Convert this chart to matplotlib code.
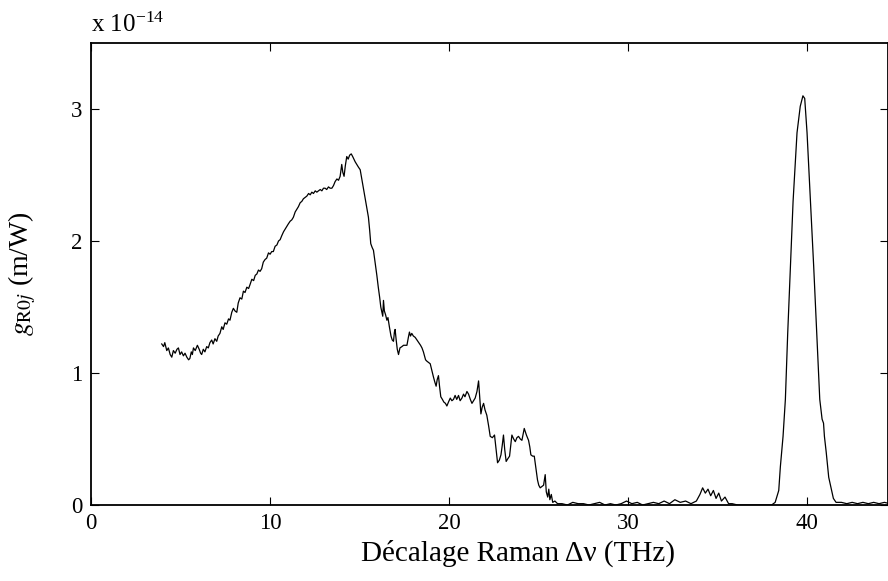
import matplotlib
matplotlib.use('Agg')
import matplotlib.pyplot as plt

# Raman gain spectrum (units of 1e-14 m/W)
shift_thz = [
    3.95, 4.05, 4.12, 4.23, 4.32, 4.42, 4.51, 4.60, 4.70, 4.80, 4.88, 4.97, 5.06, 5.16, 5.25, 5.35,
    5.45, 5.52, 5.60, 5.66, 5.72, 5.82, 5.94, 6.04, 6.12, 6.18, 6.27, 6.36, 6.46, 6.55, 6.64, 6.74,
    6.82, 6.92, 7.02, 7.10, 7.20, 7.30, 7.38, 7.48, 7.58, 7.68, 7.76, 7.86, 7.95, 8.04, 8.14, 8.22,
    8.32, 8.42, 8.51, 8.60, 8.70, 8.80, 8.88, 8.98, 9.08, 9.17, 9.26, 9.35, 9.44, 9.53, 9.62, 9.72,
    9.81, 9.91, 10.00, 10.09, 10.18, 10.28, 10.38, 10.47, 10.56, 10.65, 10.75, 10.84, 10.93, 11.02,
    11.12, 11.21, 11.30, 11.40, 11.49, 11.58, 11.68, 11.77, 11.86, 11.96, 12.05, 12.15, 12.24, 12.33,
    12.42, 12.52, 12.61, 12.70, 12.80, 12.89, 12.98, 13.07, 13.16, 13.26, 13.35, 13.45, 13.54, 13.63,
    13.73, 13.82, 13.91, 13.97, 14.00, 14.06, 14.13, 14.20, 14.28, 14.36, 14.44, 14.53, 14.61, 14.68,
    14.75, 14.84, 14.93, 15.03, 15.12, 15.21, 15.30, 15.40, 15.49, 15.56, 15.62, 15.70, 15.77, 15.86,
    15.96, 16.04, 16.12, 16.18, 16.24, 16.29, 16.33, 16.38, 16.45, 16.52, 16.58, 16.66, 16.75, 16.82,
    16.89, 16.94, 16.98, 17.04, 17.10, 17.17, 17.25, 17.36, 17.45, 17.55, 17.64, 17.72, 17.78, 17.84,
    17.91, 18.00, 18.10, 18.20, 18.30, 18.40, 18.48, 18.56, 18.62, 18.68, 18.75, 18.85, 18.94, 19.03,
    19.12, 19.20, 19.27, 19.33, 19.40, 19.46, 19.53, 19.62, 19.70, 19.79, 19.87, 19.96, 20.06, 20.15,
    20.24, 20.33, 20.42, 20.52, 20.61, 20.71, 20.80, 20.88, 20.99, 21.08, 21.18, 21.27, 21.36, 21.45,
    21.55, 21.64, 21.70, 21.77, 21.84, 21.92, 22.00, 22.10, 22.20, 22.29, 22.41, 22.53, 22.62, 22.70,
    22.80, 22.89, 22.96, 23.03, 23.10, 23.18, 23.27, 23.37, 23.44, 23.50, 23.60, 23.69, 23.78, 23.87,
    23.97, 24.06, 24.12, 24.19, 24.31, 24.43, 24.50, 24.56, 24.66, 24.75, 24.84, 24.93, 25.00, 25.08,
    25.18, 25.27, 25.36, 25.42, 25.50, 25.56, 25.62, 25.70, 25.78, 25.90, 26.05,
    26.3, 26.6, 26.9, 27.2, 27.5, 27.8, 28.1, 28.4, 28.7, 29.0, 29.3, 29.6, 29.9, 30.2, 30.5, 30.8,
    31.1, 31.4, 31.7, 32.0, 32.3, 32.6, 32.9, 33.2, 33.5, 33.8,
    34.0, 34.15, 34.3, 34.45, 34.6, 34.75, 34.9, 35.05, 35.2, 35.4, 35.6, 35.8, 36.1, 36.6, 37.1,
    37.6, 38.0, 38.2, 38.4, 38.49, 38.64, 38.77, 38.9, 39.05, 39.2, 39.42, 39.6, 39.75, 39.85, 39.98,
    40.15, 40.35, 40.52, 40.69, 40.82, 40.9, 40.95, 41.05, 41.19, 41.32, 41.45, 41.6, 41.9, 42.2,
    42.5, 42.8, 43.1, 43.4, 43.7, 44.0, 44.3, 44.6,
]
gain = [
    1.22, 1.20, 1.23, 1.17, 1.19, 1.14, 1.12, 1.17, 1.15, 1.18, 1.19, 1.14, 1.16, 1.13, 1.15, 1.12,
    1.10, 1.11, 1.16, 1.14, 1.19, 1.17, 1.21, 1.18, 1.15, 1.14, 1.18, 1.16, 1.20, 1.19, 1.23, 1.25,
    1.22, 1.26, 1.24, 1.28, 1.30, 1.35, 1.33, 1.38, 1.37, 1.41, 1.40, 1.46, 1.49, 1.47, 1.46, 1.53,
    1.57, 1.56, 1.62, 1.61, 1.65, 1.64, 1.67, 1.71, 1.70, 1.74, 1.75, 1.78, 1.77, 1.79, 1.84, 1.86,
    1.87, 1.91, 1.90, 1.92, 1.92, 1.96, 1.97, 2.00, 2.01, 2.04, 2.07, 2.09, 2.11, 2.13,
    2.15, 2.16, 2.18, 2.22, 2.24, 2.26, 2.29, 2.30, 2.32, 2.33, 2.34, 2.36, 2.35, 2.37,
    2.36, 2.38, 2.37, 2.38, 2.39, 2.38, 2.40, 2.40, 2.39, 2.41, 2.40, 2.40, 2.42, 2.45,
    2.47, 2.46, 2.49, 2.55, 2.58, 2.52, 2.49, 2.57, 2.64, 2.62, 2.65, 2.66, 2.64, 2.62,
    2.60, 2.58, 2.56, 2.54, 2.47, 2.40, 2.33, 2.25, 2.18, 2.08, 1.98, 1.95, 1.93, 1.84,
    1.74, 1.65, 1.57, 1.50, 1.46, 1.43, 1.55, 1.47, 1.44, 1.40, 1.42, 1.35, 1.28, 1.25,
    1.24, 1.31, 1.33, 1.25, 1.18, 1.14, 1.19, 1.20, 1.21, 1.21, 1.21, 1.27, 1.31, 1.28,
    1.30, 1.28, 1.27, 1.25, 1.23, 1.21, 1.19, 1.16, 1.13, 1.10, 1.09, 1.08, 1.07, 1.02,
    0.97, 0.93, 0.90, 0.95, 0.98, 0.90, 0.82, 0.80, 0.78, 0.77, 0.75, 0.78, 0.81, 0.79,
    0.80, 0.83, 0.80, 0.83, 0.79, 0.81, 0.84, 0.82, 0.86, 0.84, 0.80, 0.77, 0.79, 0.81,
    0.86, 0.94, 0.82, 0.69, 0.74, 0.77, 0.72, 0.68, 0.60, 0.52, 0.51, 0.53, 0.42, 0.32,
    0.34, 0.38, 0.45, 0.53, 0.42, 0.33, 0.35, 0.37, 0.46, 0.53, 0.50, 0.48, 0.51, 0.52,
    0.50, 0.49, 0.53, 0.58, 0.53, 0.49, 0.44, 0.38, 0.37, 0.37, 0.28, 0.19, 0.15, 0.13,
    0.14, 0.15, 0.23, 0.10, 0.06, 0.12, 0.04, 0.08, 0.02, 0.03, 0.01,
    0.01, 0.00, 0.02, 0.01, 0.01, 0.00, 0.01, 0.02, 0.00, 0.01, 0.00, 0.01, 0.03, 0.01, 0.02, 0.00,
    0.01, 0.02, 0.01, 0.03, 0.01, 0.04, 0.02, 0.03, 0.01, 0.03,
    0.08, 0.13, 0.09, 0.12, 0.07, 0.11, 0.05, 0.09, 0.03, 0.06, 0.01, 0.01, 0.00, 0.00, 0.00,
    0.00, 0.00, 0.02, 0.11, 0.29, 0.52, 0.80, 1.30, 1.81, 2.30, 2.82, 3.02, 3.10, 3.08, 2.82,
    2.35, 1.81, 1.30, 0.80, 0.65, 0.62, 0.52, 0.40, 0.21, 0.13, 0.05, 0.02, 0.02, 0.01,
    0.02, 0.01, 0.02, 0.01, 0.02, 0.01, 0.02, 0.01,
]

x_ticks = [0, 10, 20, 30, 40]
y_ticks = [0, 1, 2, 3]

plt.rcParams['font.family'] = ['Liberation Serif', 'DejaVu Serif']
plt.rcParams['mathtext.fontset'] = 'stix'

fig = plt.figure(figsize=(8.88, 5.81), dpi=100)
ax = fig.add_axes([91 / 888, 1 - 505 / 581, 797 / 888, 462 / 581])

ax.plot(shift_thz, gain, color='black', linewidth=0.9)

ax.set_xlim(0, 44.5)
ax.set_ylim(0, 3.5)
ax.set_xticks(x_ticks)
ax.set_yticks(y_ticks)
ax.tick_params(direction='in', length=5.5, width=0.8, top=True, right=True,
               labelsize=16.5, pad=6)
for sp in ax.spines.values():
    sp.set_linewidth(1.3)

ax.set_xlabel('Décalage Raman Δν (THz)', fontsize=21)
ax.xaxis.set_label_coords(0.536, -0.075)
ax.set_ylabel(r'$g_{\mathrm{R0}j}$ (m/W)', fontsize=20)
ax.yaxis.set_label_coords(-0.066, 0.5)

# exponent shown above the axis, as in the original
ax.text(0.0, 1.012, r'x 10$^{\mathregular{-14}}$', transform=ax.transAxes,
        fontsize=18, ha='left', va='bottom')

fig.savefig('out.png', dpi=100)
